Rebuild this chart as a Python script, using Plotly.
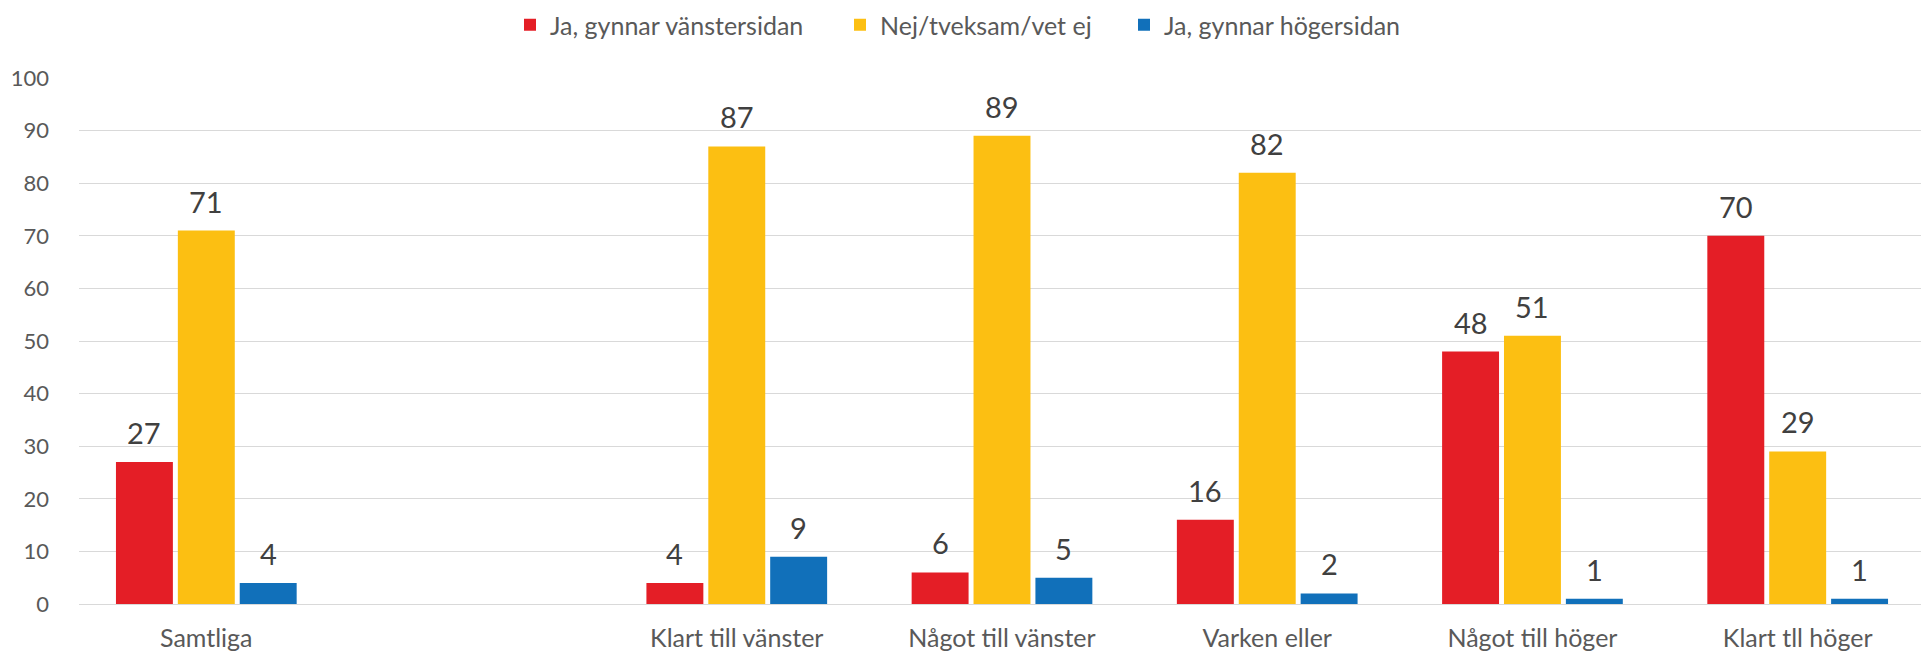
import plotly.graph_objects as go

categories = ["Samtliga", " ", "Klart till vänster", "Något till vänster", "Varken eller", "Något till höger", "Klart tll höger"]
series_names = ["Ja, gynnar vänstersidan", "Nej/tveksam/vet ej", "Ja, gynnar högersidan"]
vanster = [27, None, 4, 6, 16, 48, 70]
tveksam = [71, None, 87, 89, 82, 51, 29]
hoger = [4, None, 9, 5, 2, 1, 1]
y_ticks = [0, 10, 20, 30, 40, 50, 60, 70, 80, 90, 100]

colors = ["#E41E26", "#FCBF12", "#1170BA"]
FONT = "Lato"
# page body has an 8px margin, so the figure is sized to fit inside the window
W, H = 1921, 643
ML, MR, MT, MB = 71, 4, 70, 47
XR = [-0.48, 6.48]
BARGAP = 0.3

legend_names = ["legend", "legend2", "legend3"]
legend_x_px = [502, 832, 1116]

fig = go.Figure()
for name, vals, col, lg in zip(series_names, [vanster, tveksam, hoger], colors, legend_names):
    fig.add_trace(go.Bar(
        x=categories, y=vals, name=name, legend=lg,
        marker=dict(color=col, line=dict(width=0)),
    ))

# data labels placed above each bar
px_per_cat = (W - ML - MR) / (XR[1] - XR[0])
slot = (1 - BARGAP) / 3 * px_per_cat
for i, vals in enumerate([vanster, tveksam, hoger]):
    for c, v in zip(categories, vals):
        if v is None:
            continue
        fig.add_annotation(
            x=c, y=v, text=str(v), showarrow=False,
            xshift=(i - 1) * slot, yshift=10, yanchor="bottom",
            font=dict(family=FONT, size=29, color="#404040"),
        )

leg_common = dict(orientation="h", xref="container", yref="container",
                  xanchor="left", yanchor="middle", y=1 - 17 / H,
                  font=dict(family=FONT, size=25, color="#595959"),
                  bgcolor="rgba(0,0,0,0)", borderwidth=0)
fig.update_layout(
    width=W, height=H,
    margin=dict(l=ML, r=MR, t=MT, b=MB, autoexpand=False),
    paper_bgcolor="white", plot_bgcolor="white",
    barmode="group", bargap=BARGAP, bargroupgap=0.08,
    font=dict(family=FONT, color="#595959"),
    showlegend=True,
    legend=dict(x=legend_x_px[0] / W, **leg_common),
    legend2=dict(x=legend_x_px[1] / W, **leg_common),
    legend3=dict(x=legend_x_px[2] / W, **leg_common),
)
fig.update_xaxes(
    type="category", range=XR,
    showgrid=False, showline=False, zeroline=False,
    tickfont=dict(family=FONT, size=25, color="#595959"),
    ticklabelstandoff=17, ticks="",
)
fig.update_yaxes(
    range=[0, 100], tickvals=y_ticks,
    showgrid=True, gridcolor="#D9D9D9", gridwidth=1.3,
    zeroline=True, zerolinecolor="#D9D9D9", zerolinewidth=1.3,
    showline=False, ticks="",
    tickfont=dict(family=FONT, size=22, color="#595959"),
    ticklabelstandoff=29,
)

fig.write_html("out.html")
